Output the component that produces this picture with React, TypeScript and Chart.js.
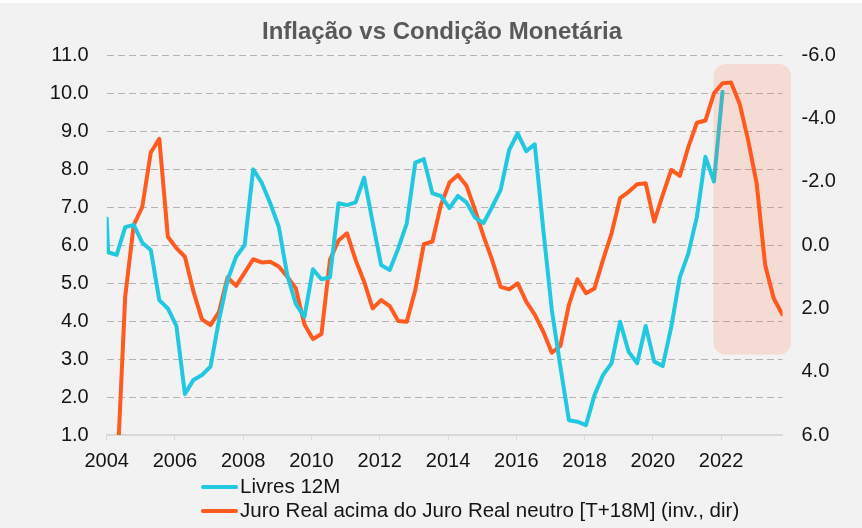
import React, { useEffect, useRef } from "react";
import { Chart, registerables } from "chart.js";

Chart.register(...registerables);

const TITLE = "Inflação vs Condição Monetária";
const LABEL_LIVRES = "Livres 12M";
const LABEL_JURO = "Juro Real acima do Juro Real neutro [T+18M] (inv., dir)";

// Quarterly categories 2004T1 .. 2023T4
const quarters: string[] = [];
for (let y = 2004; y <= 2023; y++) for (let q = 1; q <= 4; q++) quarters.push(`${y}T${q}`);

// Livres 12M (% a.a., left axis) – first reading at the very start of 2004, then quarterly
const livresInicio = 6.7;
const livres: number[] = [
  5.81, 5.74, 6.47, 6.53, 6.06, 5.87, 4.55, 4.33, 3.87, 2.08,
  2.45, 2.58, 2.8, 4.03, 5.08, 5.69, 6.0, 7.99, 7.64, 7.1,
  6.48, 5.2, 4.45, 4.11, 5.36, 5.1, 5.15, 7.1, 7.05, 7.12,
  7.77, 6.6, 5.47, 5.34, 5.91, 6.57, 8.17, 8.26, 7.36, 7.29,
  6.97, 7.29, 7.12, 6.72, 6.58, 7.0, 7.45, 8.5, 8.94, 8.47,
  8.65, 6.4, 4.29, 2.8, 1.39, 1.35, 1.26, 2.05, 2.58, 2.89,
  3.98, 3.19, 2.89, 3.87, 2.93, 2.82, 3.85, 5.15, 5.78, 6.74,
  8.32, 7.67, 10.03,
];

// Juro real acima do neutro [T+18M] (p.p., right axis, inverted)
const juroReal: (number | null)[] = [
  null, 7.5, 1.63, -0.63, -1.2, -2.92, -3.35, -0.26, 0.1, 0.37,
  1.47, 2.35, 2.53, 2.11, 1.02, 1.29, 0.87, 0.45, 0.55, 0.53,
  0.68, 1.0, 1.37, 2.5, 2.97, 2.81, 0.47, -0.14, -0.37, 0.47,
  1.16, 2.0, 1.74, 1.93, 2.4, 2.42, 1.42, -0.03, -0.11, -1.26,
  -1.97, -2.21, -1.87, -1.11, -0.28, 0.47, 1.32, 1.4, 1.21, 1.79,
  2.2, 2.74, 3.4, 3.19, 1.89, 1.08, 1.52, 1.37, 0.47, -0.37,
  -1.48, -1.68, -1.92, -1.95, -0.74, -1.58, -2.37, -2.18, -3.1, -3.86,
  -3.93, -4.79, -5.11, -5.13, -4.47, -3.32, -1.95, 0.63, 1.68, 2.19,
];

// Axis ranges / tick steps
const xRange = [2004, 2023.8];
const leftRange = [1, 11];
const rightRange = [-6, 6];
const xStep = 2;
const leftStep = 1;
const rightStep = 2;

// Highlight window (x in years, y on left axis)
const highlightX = [2021.78, 2024.05];
const highlightY = [10.76, 3.12];

const CYAN = "#21c8df";
const ORANGE = "#ff5a1f";
const FONT = "'Liberation Sans', Arial, sans-serif";
const TEXT = "#141414";

function quarterToX(label: string): number {
  const [y, q] = label.split("T").map(Number);
  return y + (q - 1) / 4 + 1 / 24;
}

export default function App() {
  const ref = useRef<HTMLCanvasElement | null>(null);

  useEffect(() => {
    if (!ref.current) return;

    const livresData = [
      { x: xRange[0], y: livresInicio },
      ...livres.map((v, i) => ({ x: quarterToX(quarters[i]), y: v })),
    ];
    const juroData = juroReal.map((v, i) => ({ x: quarterToX(quarters[i]), y: v }));

    const bgPlugin = {
      id: "bg",
      beforeDraw(chart: any) {
        const { ctx, width, height } = chart;
        ctx.save();
        ctx.fillStyle = "#ffffff";
        ctx.fillRect(0, 0, width, height);
        ctx.fillStyle = "#f2f2f2";
        ctx.fillRect(0, 3, width, height - 3);
        ctx.restore();
      },
    };

    const highlightPlugin = {
      id: "highlight",
      afterDatasetsDraw(chart: any) {
        const { ctx, scales } = chart;
        const x0 = scales.x.getPixelForValue(highlightX[0]);
        const x1 = scales.x.getPixelForValue(highlightX[1]);
        const y0 = scales.y.getPixelForValue(highlightY[0]);
        const y1 = scales.y.getPixelForValue(highlightY[1]);
        ctx.save();
        ctx.fillStyle = "rgba(255,90,31,0.15)";
        ctx.beginPath();
        (ctx as any).roundRect(x0, y0, x1 - x0, y1 - y0, 12);
        ctx.fill();
        ctx.restore();
      },
    };

    const titleLegendPlugin = {
      id: "titleLegend",
      afterDraw(chart: any) {
        const { ctx } = chart;
        ctx.save();
        ctx.font = `bold 24px ${FONT}`;
        ctx.fillStyle = "#595959";
        ctx.textAlign = "center";
        ctx.textBaseline = "alphabetic";
        ctx.fillText(TITLE, 442, 38.5);

        const rows = [487, 511];
        chart.data.datasets.forEach((ds: any, i: number) => {
          const y = rows[i];
          ctx.strokeStyle = ds.borderColor;
          ctx.lineWidth = 4;
          ctx.lineCap = "round";
          ctx.beginPath();
          ctx.moveTo(203, y);
          ctx.lineTo(236, y);
          ctx.stroke();
          ctx.font = `20.5px ${FONT}`;
          ctx.fillStyle = TEXT;
          ctx.textAlign = "left";
          ctx.textBaseline = "middle";
          ctx.fillText(ds.label, 240, y);
        });
        ctx.restore();
      },
    };

    const tickFont = { family: FONT, size: 20 };

    const chart = new Chart(ref.current, {
      type: "line",
      data: {
        datasets: [
          {
            label: LABEL_LIVRES,
            data: livresData as any,
            borderColor: CYAN,
            backgroundColor: CYAN,
            borderWidth: 4,
            yAxisID: "y",
          },
          {
            label: LABEL_JURO,
            data: juroData as any,
            borderColor: ORANGE,
            backgroundColor: ORANGE,
            borderWidth: 4,
            yAxisID: "y1",
          },
        ],
      },
      options: {
        responsive: false,
        animation: false,
        devicePixelRatio: 1,
        layout: { padding: { top: 55, bottom: 53, left: 0, right: 0 } },
        elements: {
          point: { radius: 0, hoverRadius: 0 },
          line: { tension: 0, borderJoinStyle: "round", borderCapStyle: "round" },
        },
        plugins: {
          legend: { display: false },
          title: { display: false },
          tooltip: { enabled: false },
        },
        scales: {
          x: {
            type: "linear",
            min: xRange[0],
            max: xRange[1],
            ticks: {
              stepSize: xStep,
              includeBounds: false,
              autoSkip: false,
              maxRotation: 0,
              padding: 9,
              color: TEXT,
              font: tickFont,
              callback: (v: any) => String(v),
            },
            grid: { drawOnChartArea: false, drawTicks: true, tickLength: 5, color: "#d9d9d9", lineWidth: 1 },
            border: { display: true, color: "#d9d9d9", width: 2 },
            afterFit: (s: any) => {
              s.height = 40;
            },
          },
          y: {
            position: "left",
            min: leftRange[0],
            max: leftRange[1],
            ticks: {
              stepSize: leftStep,
              padding: 18,
              color: TEXT,
              font: tickFont,
              callback: (v: any) => Number(v).toFixed(1),
            },
            grid: {
              drawTicks: false,
              lineWidth: 1,
              color: (c: any) => (c.tick && c.tick.value === leftRange[0] ? "rgba(0,0,0,0)" : "#b3b3b3"),
            },
            border: { display: false, dash: [7, 4] },
            afterFit: (s: any) => {
              s.width = 106.7;
            },
          },
          y1: {
            position: "right",
            reverse: true,
            min: rightRange[0],
            max: rightRange[1],
            ticks: {
              stepSize: rightStep,
              padding: 19,
              color: TEXT,
              font: tickFont,
              callback: (v: any) => Number(v).toFixed(1),
            },
            grid: { drawOnChartArea: false, drawTicks: false },
            border: { display: false },
            afterFit: (s: any) => {
              s.width = 79.5;
            },
          },
        },
      } as any,
      plugins: [bgPlugin, highlightPlugin, titleLegendPlugin],
    });

    return () => chart.destroy();
  }, []);

  return (
    <canvas
      ref={ref}
      width={862}
      height={528}
      style={{ position: "fixed", left: 0, top: 0, width: 862, height: 528, display: "block" }}
    />
  );
}
